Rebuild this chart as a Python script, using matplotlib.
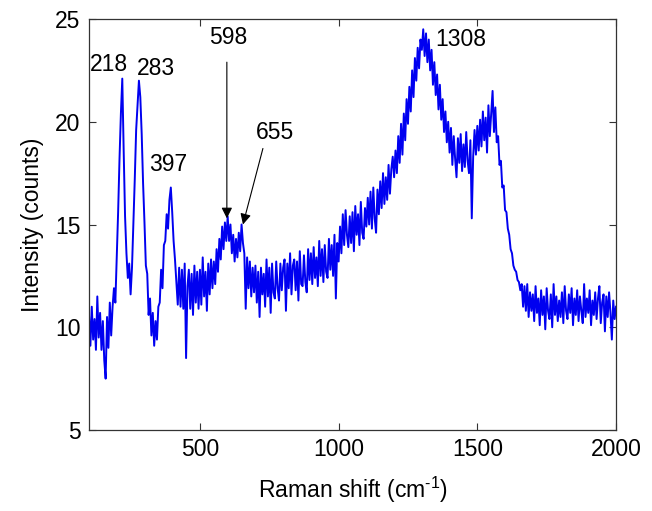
import numpy as np
import matplotlib
matplotlib.use("Agg")
import matplotlib.pyplot as plt

plt.rcParams['font.family'] = ['Liberation Sans', 'DejaVu Sans']
plt.rcParams['mathtext.fontset'] = 'custom'
plt.rcParams['mathtext.rm'] = 'Liberation Sans'

# Raman shift sampled every 5 cm^-1 from 100 to 2000
shift = np.arange(100, 2001, 5)

# intensity (counts), one row per 100 cm^-1
intensity = [
    10.6, 9.1, 11.0, 9.4, 10.4, 8.9, 11.5, 9.5, 10.7, 8.9, 10.3, 8.4, 7.5, 10.5, 9.0, 11.2, 9.6, 11.0, 11.9, 11.2,
    13.4, 15.6, 18.2, 20.4, 22.1, 18.6, 15.4, 13.6, 12.4, 13.1, 11.6, 12.9, 15.0, 17.2, 19.6, 20.8, 22.0, 21.2, 19.4, 17.0,
    15.1, 13.0, 12.6, 10.6, 11.4, 9.6, 10.7, 9.1, 10.3, 9.4, 11.0, 11.2, 12.8, 11.9, 14.0, 14.2, 15.5, 14.8, 16.2, 16.8,
    15.6, 14.2, 13.3, 12.2, 11.1, 12.9, 11.0, 12.8, 10.9, 13.1, 8.5, 12.0, 12.8, 10.9, 12.6, 10.6, 13.0, 11.2, 12.7, 10.9,
    12.8, 11.1, 13.4, 11.5, 12.7, 10.8, 13.1, 11.6, 13.3, 11.9, 13.2, 12.1, 13.8, 12.7, 14.3, 13.3, 14.9, 13.8, 15.1, 14.2,
    15.4, 14.2, 15.0, 13.6, 14.5, 13.2, 14.3, 13.4, 14.6, 13.7, 15.0, 14.1, 13.6, 10.9, 13.4, 11.9, 13.2, 11.5, 12.9, 11.7,
    13.0, 11.2, 12.7, 10.5, 12.9, 11.6, 12.6, 11.0, 13.3, 11.5, 12.9, 10.7, 13.1, 11.7, 11.4, 13.2, 11.9, 11.3, 13.1, 11.8,
    12.9, 13.3, 10.8, 13.1, 11.9, 13.6, 11.6, 13.0, 13.3, 11.8, 13.2, 11.3, 13.7, 12.1, 12.0, 13.5, 12.2, 11.7, 13.8, 12.3,
    13.6, 12.1, 13.9, 12.4, 13.4, 12.0, 14.2, 12.5, 13.8, 12.2, 14.0, 12.7, 12.4, 14.3, 12.8, 14.0, 12.5, 14.5, 11.4, 14.1,
    13.2, 14.9, 13.6, 15.5, 14.0, 15.7, 14.5, 13.9, 15.4, 14.1, 15.6, 13.7, 15.9, 14.5, 15.5, 14.0, 16.1, 14.6, 14.3, 15.8,
    14.9, 16.3, 15.0, 16.6, 14.8, 16.8, 15.3, 14.6, 16.7, 15.5, 17.1, 15.8, 17.5, 16.0, 17.3, 16.2, 17.9, 16.5, 17.7, 18.3,
    17.3, 18.6, 17.5, 19.3, 18.0, 19.9, 18.4, 20.4, 19.1, 21.1, 19.9, 21.7, 20.5, 22.5, 21.2, 23.1, 22.0, 23.6, 22.6, 24.0,
    23.5, 24.5, 23.2, 24.3, 22.9, 24.0, 22.5, 23.5, 21.8, 22.9, 21.3, 22.3, 20.6, 21.8, 20.1, 21.1, 19.5, 20.5, 19.0, 20.0,
    18.5, 19.7, 17.9, 19.3, 18.2, 17.3, 19.2, 18.0, 19.4, 17.6, 18.9, 17.8, 19.5, 18.1, 17.5, 19.1, 15.3, 18.3, 19.6, 18.4,
    19.8, 18.6, 20.1, 18.8, 20.5, 19.1, 20.2, 18.5, 20.8, 19.3, 20.4, 21.5, 19.5, 20.7, 19.0, 19.3, 17.9, 18.1, 16.8, 16.9,
    15.7, 15.6, 14.8, 14.5, 13.8, 13.6, 13.0, 12.8, 12.7, 12.3, 12.2, 11.8, 12.1, 11.0, 12.0, 10.8, 12.1, 10.5, 11.7, 10.8,
    11.6, 10.3, 12.0, 10.7, 11.4, 10.1, 11.8, 10.6, 11.5, 9.9, 11.9, 10.8, 10.4, 11.6, 10.0, 12.1, 10.6, 11.5, 10.3, 11.3,
    10.5, 11.7, 10.2, 12.0, 10.8, 10.4, 11.6, 10.7, 11.9, 10.1, 11.4, 10.6, 11.8, 10.3, 11.5, 10.8, 10.2, 12.1, 10.5, 11.4,
    10.7, 11.8, 10.1, 11.3, 10.6, 11.7, 10.4, 11.4, 12.0, 10.2, 11.2, 11.6, 9.8, 11.5, 10.5, 11.7, 10.7, 9.4, 11.3, 10.4,
    11.0,
]

# peak labels and where their text sits
peak_labels = ['218', '283', '397', '1308']
peak_label_x = [172, 342, 385, 1439]
peak_label_y = [22.8, 22.6, 17.9, 24.0]

# arrowed labels: text position, arrow start, arrow tip
arrow_labels = ['598', '655']
arrow_text_xy = [(601, 24.1), (772, 19.5)]
arrow_start = [(597, 22.9), (727, 18.7)]
arrow_tip = [(597, 15.3), (655, 15.0)]

fig = plt.figure(figsize=(6.52, 5.11), dpi=100)
ax = fig.add_axes([0.1365, 0.1585, 0.8083, 0.8043])

ax.plot(shift, intensity, color='#0000f0', linewidth=1.4)

fs = 16.5
for t, x, y in zip(peak_labels, peak_label_x, peak_label_y):
    ax.text(x, y, t, fontsize=fs, ha='center', va='center')

for t, txy, s, e in zip(arrow_labels, arrow_text_xy, arrow_start, arrow_tip):
    ax.text(txy[0], txy[1], t, fontsize=fs, ha='center', va='center')
    ax.annotate('', xy=e, xytext=s,
                arrowprops=dict(arrowstyle='-|>', color='black', lw=0.8,
                                mutation_scale=16, shrinkA=0, shrinkB=0))

ax.set_xlim(100, 2000)
ax.set_ylim(5, 25)
ax.set_xticks([500, 1000, 1500, 2000])
ax.set_yticks([5, 10, 15, 20, 25])
ax.tick_params(direction='in', top=True, right=True, length=5, width=0.8,
               labelsize=fs, pad=6, color='#333333')
for sp in ax.spines.values():
    sp.set_linewidth(0.9)
    sp.set_color('#333333')

ax.set_xlabel(r'Raman shift (cm$^{\mathregular{\text{-}1}}$)', fontsize=fs, labelpad=10)
ax.set_ylabel('Intensity (counts)', fontsize=fs, labelpad=8)

fig.savefig('out.png', dpi=100)
